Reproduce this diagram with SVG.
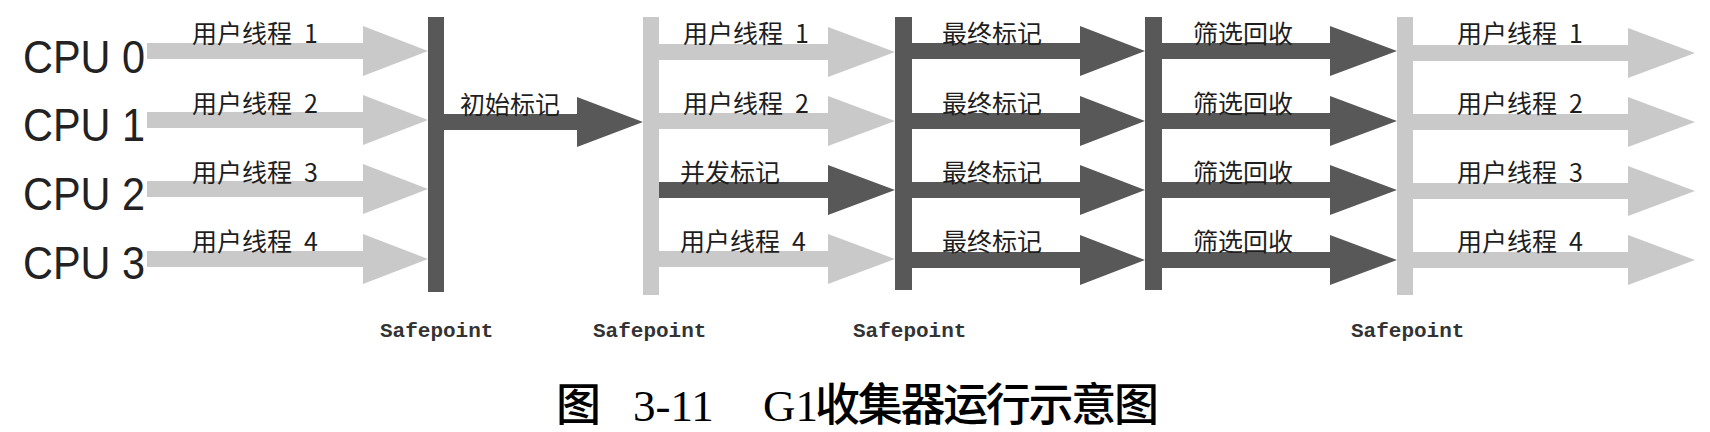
<svg xmlns="http://www.w3.org/2000/svg" width="1710" height="432" viewBox="0 0 1710 432">
<style>
.light{fill:#c9c9c9}
.dark{fill:#585858}
.cpu{font-family:"Liberation Sans",Arial,sans-serif;font-size:46px;fill:#222}
.lbl{font-family:"Noto Sans CJK SC","Liberation Sans",sans-serif;font-size:25px;fill:#1e1e1e}
.sp{font-family:"Liberation Mono",monospace;font-size:21px;font-weight:bold;fill:#333}
.cap{font-family:"Liberation Serif","Noto Sans CJK SC",serif;font-size:45px;fill:#000}
.capc{font-family:"Noto Sans CJK SC",sans-serif;font-size:45px;font-weight:500;fill:#000}
</style>
<rect width="1710" height="432" fill="#fff"/>
<g id="cpu0"><text class="cpu" x="23" y="73" textLength="122" lengthAdjust="spacingAndGlyphs">CPU 0</text></g>
<g id="cpu1"><text class="cpu" x="23" y="141" textLength="122" lengthAdjust="spacingAndGlyphs">CPU 1</text></g>
<g id="cpu2"><text class="cpu" x="23" y="210" textLength="122" lengthAdjust="spacingAndGlyphs">CPU 2</text></g>
<g id="cpu3"><text class="cpu" x="23" y="279" textLength="122" lengthAdjust="spacingAndGlyphs">CPU 3</text></g>
<g id="connectors">
<polygon class="light" points="147,43 363,43 363,26 428,51 363,76 363,59 147,59"/>
<polygon class="light" points="147,112 363,112 363,95 428,120 363,145 363,128 147,128"/>
<polygon class="light" points="147,181 363,181 363,164 428,189 363,214 363,197 147,197"/>
<polygon class="light" points="147,251 363,251 363,234 428,259 363,284 363,267 147,267"/>
<polygon class="dark" points="444,114 577,114 577,97 643,122 577,147 577,130 444,130"/>
<polygon class="light" points="659,44 828,44 828,27 895,52 828,77 828,60 659,60"/>
<polygon class="light" points="659,113 828,113 828,96 895,121 828,146 828,129 659,129"/>
<polygon class="dark" points="659,182 828,182 828,165 895,190 828,215 828,198 659,198"/>
<polygon class="light" points="659,251 828,251 828,234 895,259 828,284 828,267 659,267"/>
<polygon class="dark" points="912,43 1080,43 1080,26 1145,51 1080,76 1080,59 912,59"/>
<polygon class="dark" points="912,113 1080,113 1080,96 1145,121 1080,146 1080,129 912,129"/>
<polygon class="dark" points="912,182 1080,182 1080,165 1145,190 1080,215 1080,198 912,198"/>
<polygon class="dark" points="912,252 1080,252 1080,235 1145,260 1080,285 1080,268 912,268"/>
<polygon class="dark" points="1162,43 1330,43 1330,26 1397,51 1330,76 1330,59 1162,59"/>
<polygon class="dark" points="1162,113 1330,113 1330,96 1397,121 1330,146 1330,129 1162,129"/>
<polygon class="dark" points="1162,182 1330,182 1330,165 1397,190 1330,215 1330,198 1162,198"/>
<polygon class="dark" points="1162,252 1330,252 1330,235 1397,260 1330,285 1330,268 1162,268"/>
<polygon class="light" points="1413,45 1628,45 1628,28 1695,53 1628,78 1628,61 1413,61"/>
<polygon class="light" points="1413,114 1628,114 1628,97 1695,122 1628,147 1628,130 1413,130"/>
<polygon class="light" points="1413,183 1628,183 1628,166 1695,191 1628,216 1628,199 1413,199"/>
<polygon class="light" points="1413,252 1628,252 1628,235 1695,260 1628,285 1628,268 1413,268"/>
<text class="lbl" x="192" y="43">用户线程<tspan dx="12">1</tspan></text>
<text class="lbl" x="192" y="113">用户线程<tspan dx="12">2</tspan></text>
<text class="lbl" x="192" y="182">用户线程<tspan dx="12">3</tspan></text>
<text class="lbl" x="192" y="251">用户线程<tspan dx="12">4</tspan></text>
<text class="lbl" x="460" y="114">初始标记</text>
<text class="lbl" x="683" y="43">用户线程<tspan dx="12">1</tspan></text>
<text class="lbl" x="683" y="113">用户线程<tspan dx="12">2</tspan></text>
<text class="lbl" x="680" y="182">并发标记</text>
<text class="lbl" x="680" y="251">用户线程<tspan dx="12">4</tspan></text>
<text class="lbl" x="942" y="43">最终标记</text>
<text class="lbl" x="942" y="113">最终标记</text>
<text class="lbl" x="942" y="182">最终标记</text>
<text class="lbl" x="942" y="251">最终标记</text>
<text class="lbl" x="1193" y="43">筛选回收</text>
<text class="lbl" x="1193" y="113">筛选回收</text>
<text class="lbl" x="1193" y="182">筛选回收</text>
<text class="lbl" x="1193" y="251">筛选回收</text>
<text class="lbl" x="1457" y="43">用户线程<tspan dx="12">1</tspan></text>
<text class="lbl" x="1457" y="113">用户线程<tspan dx="12">2</tspan></text>
<text class="lbl" x="1457" y="182">用户线程<tspan dx="12">3</tspan></text>
<text class="lbl" x="1457" y="251">用户线程<tspan dx="12">4</tspan></text>
</g>
<g id="safepoint1"><rect class="dark" x="428" y="17" width="16" height="275"/><text class="sp" x="380" y="337">Safepoint</text></g>
<g id="safepoint2"><rect class="light" x="643" y="17" width="16" height="278"/><text class="sp" x="593" y="337">Safepoint</text></g>
<g id="safepoint3"><rect class="dark" x="895" y="17" width="17" height="273"/><text class="sp" x="853" y="337">Safepoint</text></g>
<g id="barrier4"><rect class="dark" x="1145" y="17" width="17" height="273"/></g>
<g id="safepoint5"><rect class="light" x="1397" y="17" width="16" height="278"/><text class="sp" x="1351" y="337">Safepoint</text></g>
<g id="caption">
<text class="capc" x="556" y="421">图</text>
<text class="cap" x="633" y="421">3-11</text>
<text class="cap" x="763" y="421">G1</text>
<text class="capc" x="815" y="421" textLength="344" lengthAdjust="spacing">收集器运行示意图</text>
</g>
</svg>
